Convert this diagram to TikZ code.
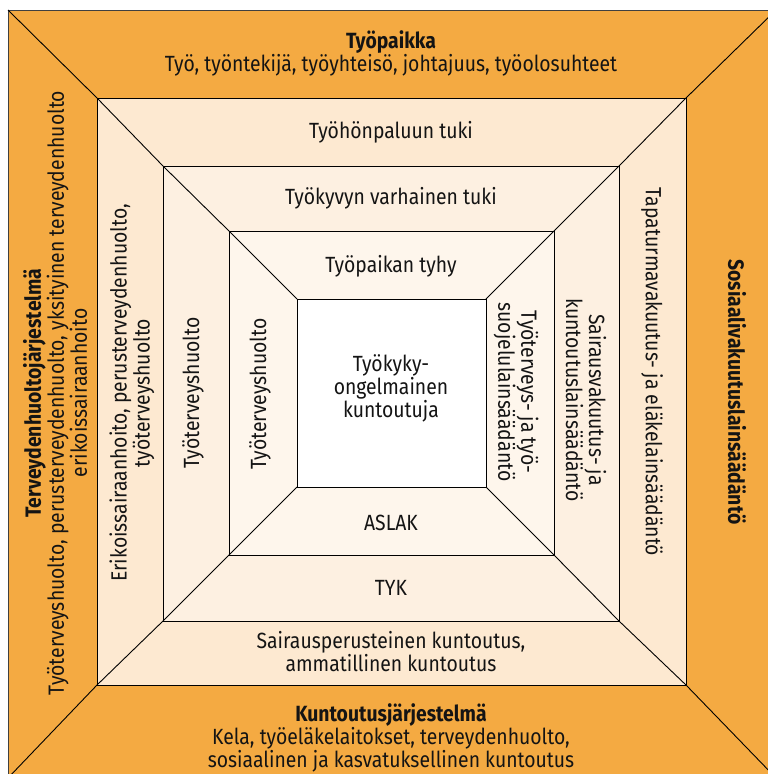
\documentclass[tikz,border=0pt]{standalone}
\usepackage{fontspec}
\setmainfont{Fira Sans}[FakeStretch=0.88]
\definecolor{orangeA}{RGB}{244,170,66}
\definecolor{ringA}{RGB}{253,233,209}
\definecolor{ringB}{RGB}{253,240,225}
\definecolor{ringC}{RGB}{254,246,236}
\definecolor{inkC}{RGB}{20,20,20}
\tikzset{
  lbl/.style={inner sep=0pt, align=center, text=inkC, font=\fontsize{22}{23}\selectfont},
  sq/.style={draw=black, line width=0.9pt},
  diag/.style={draw=black, line width=0.9pt}
}
\begin{document}
\begin{tikzpicture}[x=1pt,y=-1pt]
\useasboundingbox (0,0) rectangle (768,774);
\begin{scope}
\clip (0,0) rectangle (768,774);
% corners
\coordinate (o1) at (8,10);   \coordinate (o2) at (776,10);
\coordinate (o3) at (776,778); \coordinate (o4) at (8,778);
\coordinate (a1) at (97,98);  \coordinate (a2) at (686,98);
\coordinate (a3) at (686,685); \coordinate (a4) at (97,685);
\coordinate (b1) at (163,166); \coordinate (b2) at (619,166);
\coordinate (b3) at (619,621); \coordinate (b4) at (163,621);
\coordinate (c1) at (229,231); \coordinate (c2) at (554,231);
\coordinate (c3) at (554,555); \coordinate (c4) at (229,555);
\coordinate (d1) at (297,299); \coordinate (d2) at (486,299);
\coordinate (d3) at (486,487); \coordinate (d4) at (297,487);
\fill[orangeA, draw=black!75, line width=0.9pt] (o1) -- (o2) -- (o3) -- (o4) -- cycle;
\fill[ringA] (a1) -- (a2) -- (a3) -- (a4) -- cycle;
\fill[ringB] (b1) -- (b2) -- (b3) -- (b4) -- cycle;
\fill[ringC] (c1) -- (c2) -- (c3) -- (c4) -- cycle;
\fill[white] (d1) -- (d2) -- (d3) -- (d4) -- cycle;
\draw[sq] (a1) -- (a2) -- (a3) -- (a4) -- cycle;
\draw[sq] (b1) -- (b2) -- (b3) -- (b4) -- cycle;
\draw[sq] (c1) -- (c2) -- (c3) -- (c4) -- cycle;
\draw[sq] (d1) -- (d2) -- (d3) -- (d4) -- cycle;
\foreach \i in {1,2,3,4}{
  \draw[diag] (o\i) -- (a\i) -- (b\i) -- (c\i) -- (d\i);
}
\end{scope}
% outer texts
\node[lbl] (tTop) at (391,53) {\textbf{Työpaikka}\\Työ, työntekijä, työyhteisö, johtajuus, työolosuhteet};
\node[lbl] (tBot) at (391,738) {\textbf{Kuntoutusjärjestelmä}\\Kela, työeläkelaitokset, terveydenhuolto,\\sosiaalinen ja kasvatuksellinen kuntoutus};
\node[lbl, rotate=90] (tLeft) at (55,393) {\textbf{Terveydenhuoltojärjestelmä}\\Työterveyshuolto, perusterveydenhuolto, yksityinen terveydenhuolto\\erikoissairaanhoito};
\node[lbl, rotate=-90] (tRight) at (737,392) {\textbf{Sosiaalivakuutuslainsäädäntö}};
% ring 1
\node[lbl] (r1Top) at (391,132) {Työhönpaluun tuki};
\node[lbl] (r1Bot) at (391,652) {Sairausperusteinen kuntoutus,\\ammatillinen kuntoutus};
\node[lbl, rotate=90] (r1Left) at (132,393) {Erikoissairaanhoito, perusterveydenhuolto,\\työterveyshuolto};
\node[lbl, rotate=-90] (r1Right) at (652,372) {Tapaturmavakuutus- ja eläkelainsäädäntö};
% ring 2
\node[lbl] (r2Top) at (391,198) {Työkyvyn varhainen tuki};
\node[lbl] (r2Bot) at (391,588) {TYK};
\node[lbl, rotate=90] (r2Left) at (193,393) {Työterveyshuolto};
\node[lbl, rotate=-90] (r2Right) at (586,400) {Sairausvakuutus- ja\\kuntoutuslainsäädäntö};
% ring 3
\node[lbl] (r3Top) at (391,266) {Työpaikan tyhy};
\node[lbl] (r3Bot) at (391,523) {ASLAK};
\node[lbl, rotate=90] (r3Left) at (260,394) {Työterveyshuolto};
\node[lbl, rotate=-90] (r3Right) at (516,392) {Työterveys- ja työ-\\suojelulainsäädäntö};
% centre
\node[lbl] (ctr) at (391,388) {Työkyky-\\ongelmainen\\kuntoutuja};
\end{tikzpicture}
\end{document}
